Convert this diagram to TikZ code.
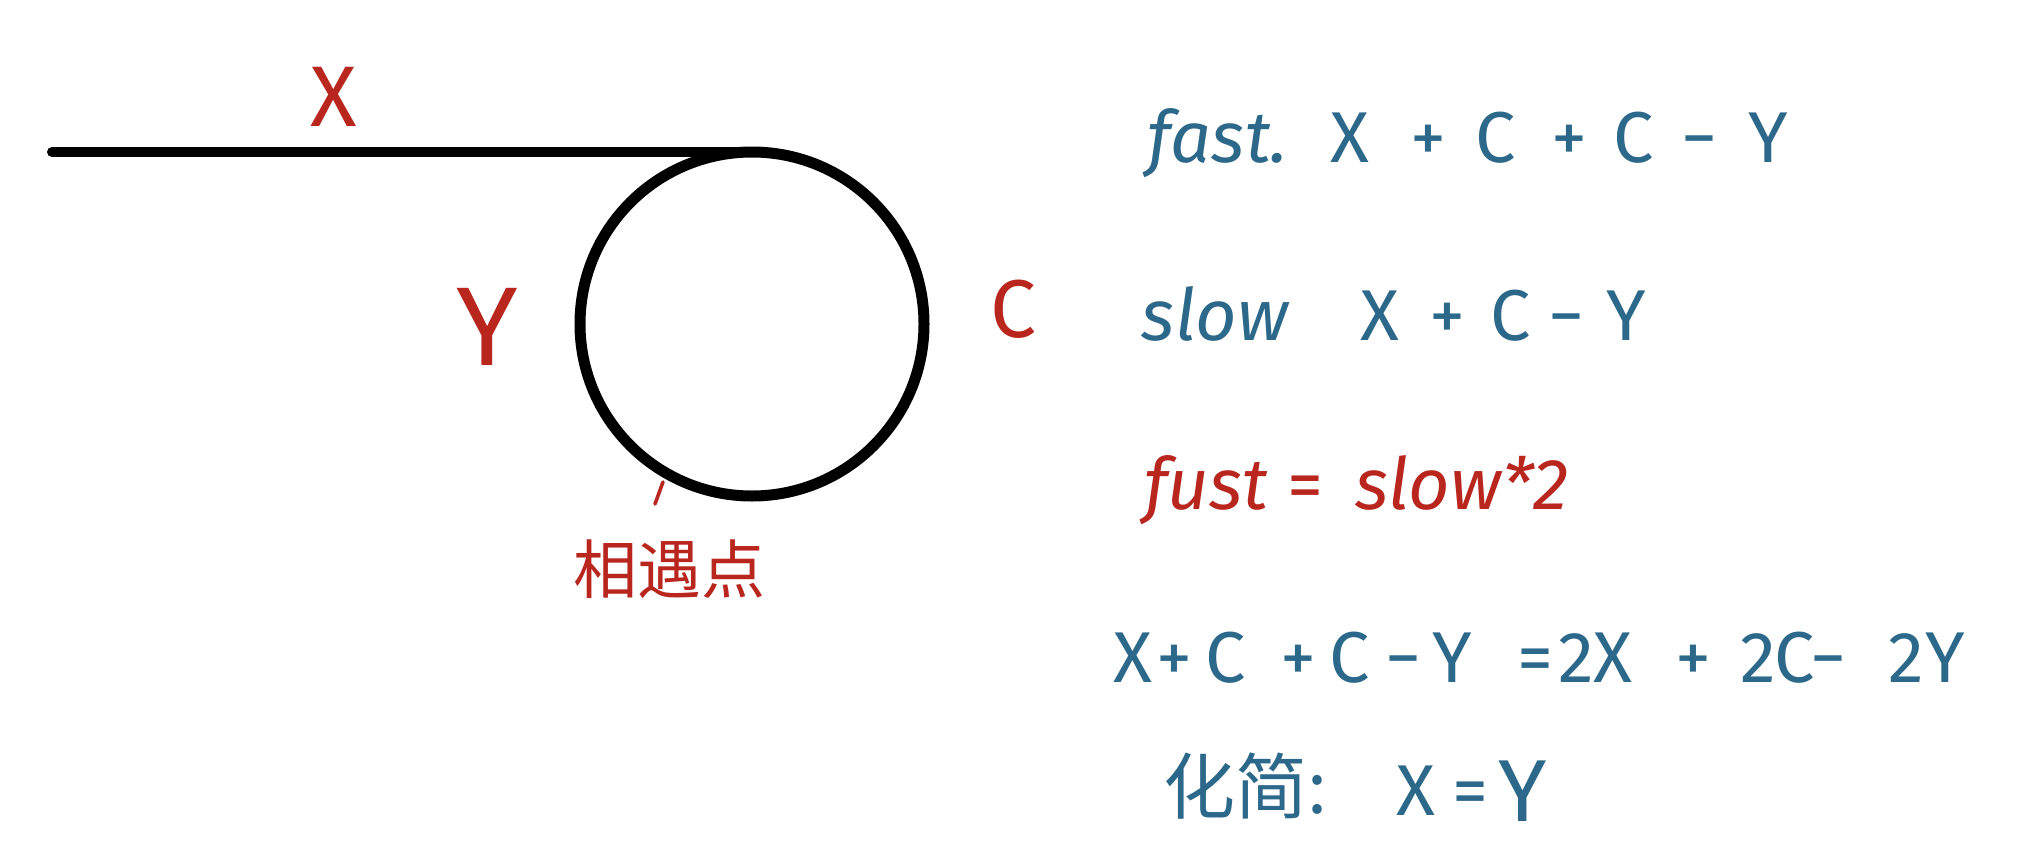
\documentclass[tikz,border=0pt]{standalone}
\usepackage{fontspec}
\setmainfont{Fira Sans}
\newfontfamily\cjk{Noto Sans CJK SC}
\definecolor{inkred}{RGB}{185,38,30}
\definecolor{inkblue}{RGB}{44,104,138}
\tikzset{
  eq/.style={text=inkblue, inner sep=0pt, anchor=base, font=\fontsize{36}{40}\selectfont},
  eqw/.style={eq, font=\fontsize{36}{40}\selectfont\itshape},
  req/.style={eq, text=inkred},
  reqw/.style={eqw, text=inkred},
  lbl/.style={text=inkred, inner sep=0pt, anchor=center},
  thick ink/.style={draw=black, line width=5pt, line cap=round},
}
\begin{document}
\begin{tikzpicture}[x=0.5pt,y=-0.5pt]
\useasboundingbox (0,0) rectangle (2036,863);
% loop figure
\node[circle, thick ink, line width=5.5pt, minimum size=172pt, inner sep=0pt, outer sep=0pt] (loop) at (752,324) {};
\coordinate (start) at (52,152);
\draw[thick ink] (start) -- (loop.north);
\node[lbl, font=\fontsize{43}{46}\selectfont] (lx) at (334,97) {X};
\node[lbl, font=\fontsize{56}{60}\selectfont] (ly) at (487,327) {Y};
\node[lbl, font=\fontsize{41}{44}\selectfont] (lc) at (1013,309) {C};
\coordinate (tickA) at (663,482);
\coordinate (tickB) at (655,504);
\draw[inkred, line width=1.8pt, line cap=round] (tickA) -- (tickB);
\node[lbl, font=\cjk\fontsize{32}{35}\selectfont] (meet) at (669,569) {相遇点};
% line 1
\node[eqw] (f1) at (1218,162) {fast.};
\node[eq] (f2) at (1350,162) {X};
\node[eq] (f3) at (1428,162) {+};
\node[eq] (f4) at (1496,162) {C};
\node[eq] (f5) at (1569,162) {+};
\node[eq] (f6) at (1634,162) {C};
\node[eq] (f7) at (1699,162) {−};
\node[eq] (f8) at (1768,162) {Y};
% line 2
\node[eqw] (s1) at (1215,340) {slow};
\node[eq] (s2) at (1380,340) {X};
\node[eq] (s3) at (1447,340) {+};
\node[eq] (s4) at (1511,340) {C};
\node[eq] (s5) at (1566,340) {−};
\node[eq] (s6) at (1626,340) {Y};
% line 3
\node[reqw] (r1) at (1206,509) {fust};
\node[req] (r2) at (1305,509) {=};
\node[reqw] (r3) at (1462,509) {slow*2};
% line 4
\node[eq] (e1) at (1133,682) {X};
\node[eq] (e2) at (1174,682) {+};
\node[eq] (e3) at (1226,682) {C};
\node[eq] (e4) at (1298,682) {+};
\node[eq] (e5) at (1350,682) {C};
\node[eq] (e6) at (1403,682) {−};
\node[eq] (e7) at (1452,682) {Y};
\node[eq] (e8) at (1535,682) {=};
\node[eq] (e9) at (1576,682) {2};
\node[eq] (e10) at (1613,682) {X};
\node[eq] (e11) at (1693,682) {+};
\node[eq] (e12) at (1758,682) {2};
\node[eq] (e13) at (1795,682) {C};
\node[eq] (e14) at (1828,682) {−};
\node[eq] (e15) at (1906,682) {2};
\node[eq] (e16) at (1945,682) {Y};
% line 5
\node[eq, anchor=center, font=\cjk\fontsize{36}{40}\selectfont] (h1) at (1245,786) {化简:};
\node[eq] (h2) at (1416,815) {X};
\node[eq] (h3) at (1470,815) {=};
\node[eq, font=\fontsize{44}{48}\selectfont] (h4) at (1523,821) {Y};
\end{tikzpicture}
\end{document}
